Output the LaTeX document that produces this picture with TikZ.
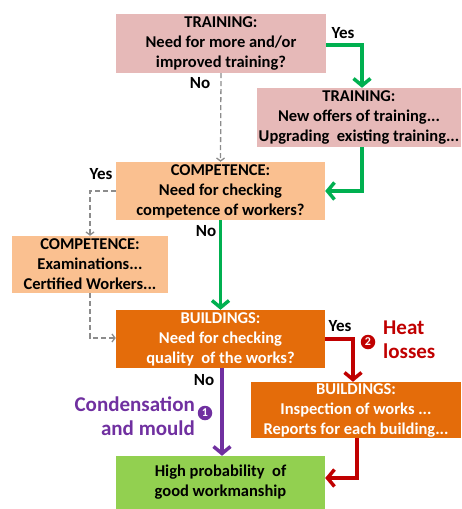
\documentclass[tikz,border=0pt]{standalone}
\usepackage{fontspec}
\setmainfont{Carlito}
\usetikzlibrary{arrows.meta}
\definecolor{trainfill}{HTML}{E6B9B8}
\definecolor{compfill}{HTML}{FAC090}
\definecolor{buildfill}{HTML}{E46C0A}
\definecolor{goodfill}{HTML}{92D050}
\definecolor{flowgreen}{HTML}{00B050}
\definecolor{flowred}{HTML}{C00000}
\definecolor{flowpurple}{HTML}{7030A0}
\definecolor{flowgray}{HTML}{8C8C8C}
\tikzset{
  box/.style={rectangle, inner sep=0pt, align=center,
    font=\bfseries\fontsize{16.5}{20}\selectfont},
  trainbox/.style={box, fill=trainfill, text=black},
  compbox/.style={box, fill=compfill, text=black},
  buildbox/.style={box, fill=buildfill, text=white},
  goodbox/.style={box, fill=goodfill, text=black},
  thickflow/.style={line width=3.5pt, -{Straight Barb[length=7pt,width=17pt]}},
  greenflow/.style={thickflow, draw=flowgreen},
  redflow/.style={thickflow, draw=flowred},
  purpleflow/.style={thickflow, draw=flowpurple},
  grayflow/.style={draw=flowgray, line width=1.3pt, dash pattern=on 5pt off 3pt,
    -{Straight Barb[length=3pt,width=8pt]}},
  answer/.style={font=\bfseries\fontsize{17}{20}\selectfont, inner sep=0pt},
  effect/.style={font=\bfseries\fontsize{21}{24}\selectfont, inner sep=0pt},
  marker/.style={circle, inner sep=0pt, minimum size=14.5pt, text=white,
    font=\bfseries\fontsize{12}{12}\selectfont},
}
\begin{document}
\begin{tikzpicture}[x=1pt,y=-1pt]
\useasboundingbox (0,0) rectangle (461,509);

% decision and action boxes
\node[trainbox, minimum width=210pt, minimum height=59pt] (t1) at (221,43.5)
  {TRAINING:\\Need for more and/or\\improved training?};
\node[trainbox, minimum width=204pt, minimum height=59pt] (t2) at (359,117.5)
  {TRAINING:\\New offers of training...\\Upgrading\ \ existing training...};
\node[compbox, minimum width=209pt, minimum height=58pt] (c1) at (220.5,191)
  {COMPETENCE:\\Need for checking\\competence of workers?};
\node[compbox, minimum width=156pt, minimum height=57pt] (c2) at (90,264.5)
  {COMPETENCE:\\Examinations...\\Certified Workers...};
\node[buildbox, minimum width=209pt, minimum height=58pt] (b1) at (220.5,339)
  {BUILDINGS:\\Need for checking\\quality\ \ of the works?};
\node[buildbox, minimum width=210pt, minimum height=56pt] (b2) at (356,410)
  {BUILDINGS:\\Inspection of works ...\\Reports for each building...};
\node[goodbox, minimum width=209pt, minimum height=53pt] (g) at (220.5,482.5)
  {High probability\ \ of\\good workmanship};

% connectors
\draw[greenflow] ([yshift=-1.5pt]t1.east) -| ([xshift=3pt]t2.north);
\draw[greenflow] ([xshift=3pt]t2.south) |- (c1.east);
\draw[greenflow] (c1.south) -- (b1.north);
\draw[grayflow] (t1.south) -- (c1.north);
\draw[grayflow] (c1.west) -| (c2.north);
\draw[grayflow] (c2.south) |- ([yshift=1pt]b1.west);
\draw[redflow] (b1.east) -| ([xshift=-3pt]b2.north);
\draw[redflow] ([xshift=1pt]b2.south) |- ([yshift=4.5pt]g.east);
\draw[purpleflow] ([xshift=1.5pt]b1.south) -- ([xshift=1.5pt]g.north);

% answers
\node[answer] (y1) at (343,33) {Yes};
\node[answer] (n1) at (200,83) {No};
\node[answer] (y2) at (101,174) {Yes};
\node[answer] (n2) at (206,231) {No};
\node[answer] (y3) at (340,326) {Yes};
\node[answer] (n3) at (204,380) {No};

% consequences
\node[marker, fill=flowred] (m2) at (368,342) {2};
\node[effect, text=flowred, align=left, anchor=west] (heat) at (383,340)
  {Heat\\losses};
\node[marker, fill=flowpurple] (m1) at (205,413) {1};
\node[effect, text=flowpurple, align=right, anchor=east] (cond) at (195,416)
  {Condensation\\and mould};
\end{tikzpicture}
\end{document}
